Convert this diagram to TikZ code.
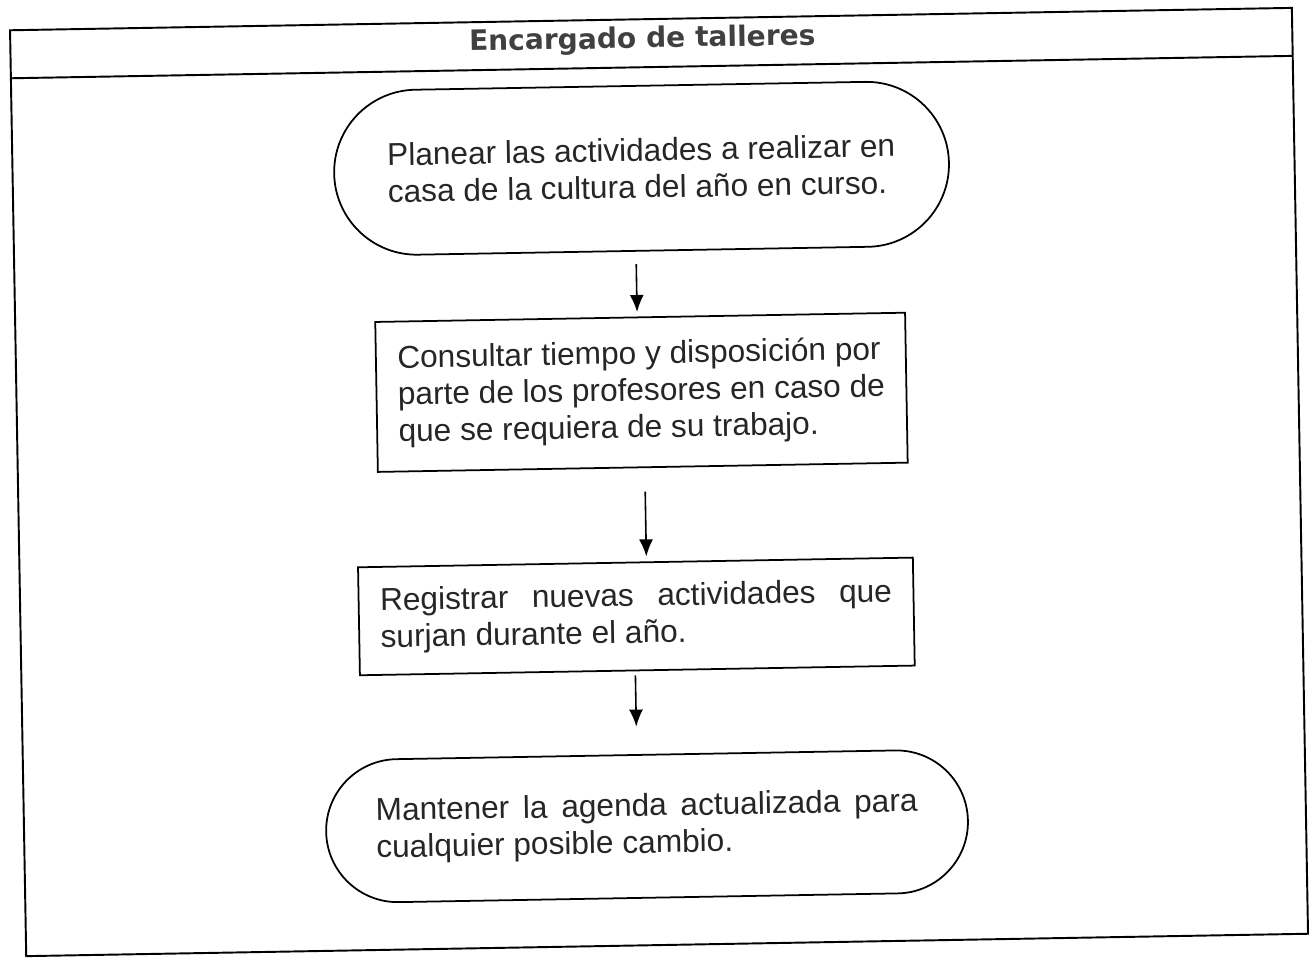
\documentclass[tikz,border=0pt]{standalone}
\usepackage{fontspec}
\setmainfont{Liberation Sans}
\newfontfamily\titlefont{DejaVu Sans}
\usetikzlibrary{arrows.meta}
\begin{document}
\begin{tikzpicture}[x=0.02cm,y=-0.02cm,
  frame/.style={draw, line width=1.1pt},
  box/.style={draw, line width=1pt, text=black!85, font=\fontsize{18}{21}\selectfont, inner sep=0pt},
  stadium/.style={box},
  arr/.style={-{Latex[length=0.34cm,width=0.28cm]}, line width=0.9pt}]
\useasboundingbox (0,0) rectangle (1312,959);
\begin{scope}[rotate around={1:(660,480)}, transform shape]
\draw[frame] (18,19) rectangle (1300,945);
\draw[frame] (18,67) -- (1300,67);
\node[text=black!75, font=\titlefont\bfseries\fontsize{16}{19}\selectfont] (title) at (650,40) {Encargado de talleres};

\node[stadium, rounded corners=1.65cm, minimum width=12.3cm, minimum height=3.3cm, align=left] (s1) at (647,168)
  {Planear las actividades a realizar en\\casa de la cultura del año en curso.};
\node[box, minimum width=10.6cm, minimum height=3.0cm, align=left] (b2) at (643,392)
  {Consultar tiempo y disposición por\\parte de los profesores en caso de\\que se requiera de su trabajo.};
\node[box, minimum width=11.1cm, minimum height=2.16cm, text width=10.24cm, align=justify] (b3) at (634,616)
  {Registrar nuevas actividades que surjan durante el año.};
\node[stadium, rounded corners=1.43cm, minimum width=12.84cm, minimum height=2.86cm, text width=10.84cm, align=justify] (s4) at (641,826)
  {Mantener la agenda actualizada para cualquier posible cambio.};

\draw[arr, shorten <=0.25cm, shorten >=0.09cm] (s1.south -| 640,0) -- (b2.north -| 640,0);
\draw[arr, shorten <=0.47cm, shorten >=0.1cm] (b2.south -| 645,0) -- (b3.north -| 645,0);
\draw[arr, shorten <=0.08cm, shorten >=0.55cm] (b3.south -| 632,0) -- (s4.north -| 632,0);
\end{scope}
\end{tikzpicture}
\end{document}
